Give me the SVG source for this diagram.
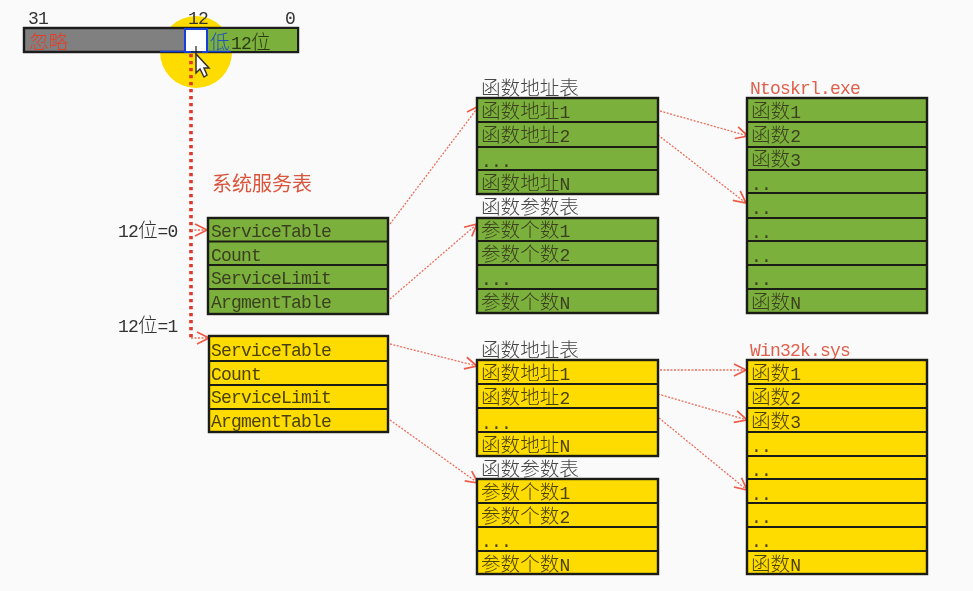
<svg xmlns="http://www.w3.org/2000/svg" width="973" height="591" viewBox="0 0 973 591">
<style>
text{font-family:"Liberation Mono","Noto Sans CJK SC",monospace;font-size:18px;letter-spacing:-.8px;fill:#333}
.c{font-family:"Noto Sans CJK SC","Liberation Mono",monospace;font-size:19.600px;font-weight:300;letter-spacing:0}
.g{fill:#7cb03c}.y{fill:#ffdc00}
.box{stroke:#1c1c14;stroke-width:2.4}
.div{stroke:#1c1c14;stroke-width:2}
.cell{fill:#3a3f20}
.yc{fill:#4a4208}
.con{fill:none;stroke:#ee6e5c;stroke-width:1.300;stroke-dasharray:2 1.500;marker-end:url(#a)}
.dot{fill:none;stroke:#e0392c;stroke-width:3.600;stroke-dasharray:3.200 3.800}
</style>
<defs>
<marker id="a" markerUnits="userSpaceOnUse" markerWidth="14" markerHeight="16" refX="13" refY="8" orient="auto"><path d="M1 2L13 8L1 14" fill="none" stroke="#f05a48" stroke-width="1.700"/></marker>
<filter id="soft" filterUnits="userSpaceOnUse" x="0" y="0" width="973" height="591"><feGaussianBlur stdDeviation="0.4"/></filter>
</defs>
<rect width="973" height="591" fill="#fafafa"/>
<g filter="url(#soft)">
<g id="register">
<circle cx="196" cy="52" r="36" fill="#ffdc00"/>
<rect x="24" y="28" width="274" height="24" fill="#808080" stroke="#1c1c1c" stroke-width="2.400"/>
<rect x="207" y="29" width="90" height="22" fill="#7cb03c"/>
<rect x="185" y="29" width="22" height="23" fill="#fff" stroke="#1440d8" stroke-width="2"/>
<path d="M160 51.500H185M207 51.500H231" stroke="#1440d8" stroke-width="1.500"/>
<text x="28" y="24">31</text><text x="188" y="24">12</text><text x="285" y="24">0</text>
<text class="c" x="29" y="49" style="fill:#e0402c">忽略</text>
<text x="210" y="49"><tspan class="c" style="fill:#2050c0">低</tspan><tspan x="231" style="fill:#2c3a14">12</tspan><tspan class="c" style="fill:#2c3a14">位</tspan></text>
<path d="M196 54L196 46M191 52H202" stroke="#222" stroke-width="1.200" fill="none"/>
<path d="M196 54V73L200 69L204 77L207 75L204 68H209Z" fill="#fff" stroke="#333" stroke-width="1.500"/>
</g>

<g id="connectors">
<path class="dot" d="M191 54V338"/>
<path class="con" d="M191 230H207"/>
<path class="con" d="M191 338H209"/>
<path class="con" d="M390 224L479 106"/>
<path class="con" d="M390 299L477 224"/>
<path class="con" d="M390 344L477 366"/>
<path class="con" d="M390 420L478 483"/>
<path class="con" d="M660 111L748 136"/>
<path class="con" d="M658 135L746 203"/>
<path class="con" d="M660 370L746 370"/>
<path class="con" d="M658 394L747 420"/>
<path class="con" d="M659 418L747 490"/>
</g>

<g id="label-systable"><text class="c" x="212" y="191" style="fill:#d9543c;font-size:20px;font-weight:400">系统服务表</text></g>
<g id="label-bit0"><text x="118" y="237">12<tspan class="c">位</tspan>=0</text></g>
<g id="label-bit1"><text x="118" y="332">12<tspan class="c">位</tspan>=1</text></g>

<g id="service-green">
<rect class="g box" x="208" y="218" width="180" height="96"/>
<path class="div" d="M208 241.500H388M208 265H388M208 289H388"/>
<text class="cell" x="211" y="237">ServiceTable</text><text class="cell" x="211" y="261">Count</text><text class="cell" x="211" y="284">ServiceLimit</text><text class="cell" x="211" y="308">ArgmentTable</text>
</g>
<g id="service-yellow">
<rect class="y box" x="209" y="336" width="179" height="96"/>
<path class="div" d="M209 361H388M209 385H388M209 409H388"/>
<text class="yc" x="211" y="356">ServiceTable</text><text class="yc" x="211" y="380">Count</text><text class="yc" x="211" y="403">ServiceLimit</text><text class="yc" x="211" y="427">ArgmentTable</text>
</g>

<g id="addr-green">
<text class="c" x="481" y="95" style="fill:#444">函数地址表</text>
<rect class="g box" x="477" y="98" width="181" height="96"/>
<path class="div" d="M477 122H658M477 147H658M477 170H658"/>
<text class="cell" x="481" y="118"><tspan class="c">函数地址</tspan>1</text><text class="cell" x="481" y="142"><tspan class="c">函数地址</tspan>2</text><text class="cell" x="481" y="167">...</text><text class="cell" x="481" y="190"><tspan class="c">函数地址</tspan>N</text>
</g>
<g id="param-green">
<text class="c" x="481" y="214" style="fill:#444">函数参数表</text>
<rect class="g box" x="477" y="218" width="181" height="95"/>
<path class="div" d="M477 241H658M477 265H658M477 289H658"/>
<text class="cell" x="481" y="237"><tspan class="c">参数个数</tspan>1</text><text class="cell" x="481" y="261"><tspan class="c">参数个数</tspan>2</text><text class="cell" x="481" y="285">...</text><text class="cell" x="481" y="309"><tspan class="c">参数个数</tspan>N</text>
</g>
<g id="ntoskrnl">
<text x="750" y="94" style="fill:#e0604c">Ntoskrl.exe</text>
<rect class="g box" x="747" y="98" width="180" height="215"/>
<path class="div" d="M747 122H927M747 147H927M747 170H927M747 193H927M747 218H927M747 241H927M747 265H927M747 289H927"/>
<text class="cell" x="751" y="118"><tspan class="c">函数</tspan>1</text><text class="cell" x="751" y="142"><tspan class="c">函数</tspan>2</text><text class="cell" x="751" y="166"><tspan class="c">函数</tspan>3</text><text class="cell" x="751" y="190">..</text><text class="cell" x="751" y="214">..</text><text class="cell" x="751" y="238">..</text><text class="cell" x="751" y="262">..</text><text class="cell" x="751" y="285">..</text><text class="cell" x="751" y="309"><tspan class="c">函数</tspan>N</text>
</g>

<g id="addr-yellow">
<text class="c" x="481" y="357" style="fill:#444">函数地址表</text>
<rect class="y box" x="477" y="360" width="181" height="96"/>
<path class="div" d="M477 384H658M477 408H658M477 432H658"/>
<text class="yc" x="481" y="380"><tspan class="c">函数地址</tspan>1</text><text class="yc" x="481" y="404"><tspan class="c">函数地址</tspan>2</text><text class="yc" x="481" y="429">...</text><text class="yc" x="481" y="452"><tspan class="c">函数地址</tspan>N</text>
</g>
<g id="param-yellow">
<text class="c" x="481" y="476" style="fill:#444">函数参数表</text>
<rect class="y box" x="477" y="479" width="181" height="95"/>
<path class="div" d="M477 503H658M477 527H658M477 551H658"/>
<text class="yc" x="481" y="499"><tspan class="c">参数个数</tspan>1</text><text class="yc" x="481" y="523"><tspan class="c">参数个数</tspan>2</text><text class="yc" x="481" y="547">...</text><text class="yc" x="481" y="571"><tspan class="c">参数个数</tspan>N</text>
</g>
<g id="win32k">
<text x="750" y="356" style="fill:#e0604c">Win32k.sys</text>
<rect class="y box" x="747" y="360" width="180" height="214"/>
<path class="div" d="M747 384H927M747 408H927M747 432H927M747 456H927M747 479H927M747 503H927M747 527H927M747 551H927"/>
<text class="yc" x="751" y="380"><tspan class="c">函数</tspan>1</text><text class="yc" x="751" y="404"><tspan class="c">函数</tspan>2</text><text class="yc" x="751" y="428"><tspan class="c">函数</tspan>3</text><text class="yc" x="751" y="452">..</text><text class="yc" x="751" y="476">..</text><text class="yc" x="751" y="500">..</text><text class="yc" x="751" y="523">..</text><text class="yc" x="751" y="547">..</text><text class="yc" x="751" y="571"><tspan class="c">函数</tspan>N</text>
</g>
</g>
</svg>
